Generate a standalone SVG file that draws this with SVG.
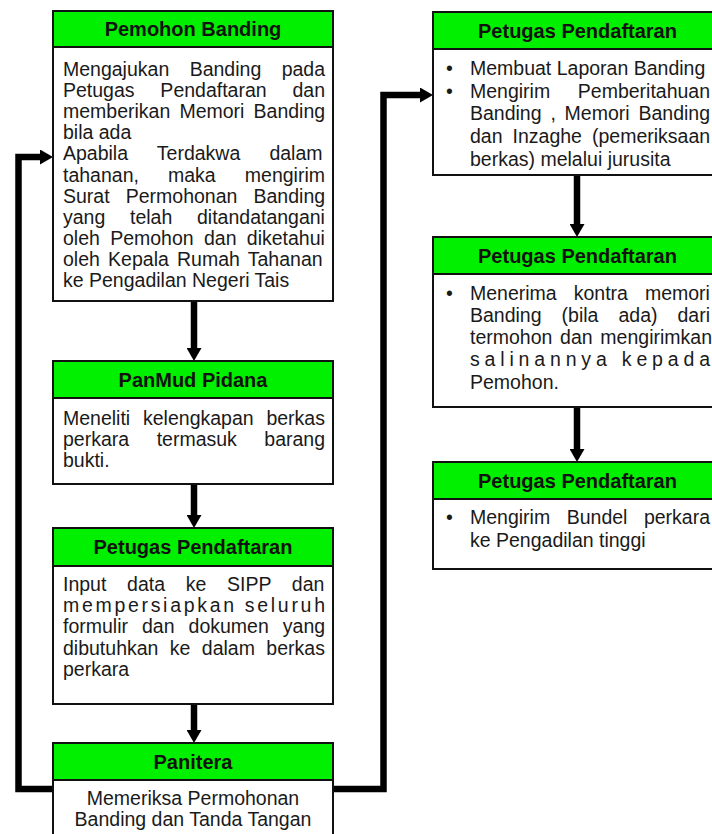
<svg xmlns="http://www.w3.org/2000/svg" width="712" height="834" viewBox="0 0 712 834">
<defs>
<style>
.box{fill:#fff;stroke:#111;stroke-width:2}
.hd{fill:#00F000;stroke:#111;stroke-width:2}
.ht{font-family:"Liberation Sans",Arial,sans-serif;font-size:20px;font-weight:bold;fill:#111;text-anchor:middle}
.bt{font-family:"Liberation Sans",Arial,sans-serif;font-size:19.5px;fill:#1a1a1a}
.ct{text-anchor:middle}
.conn{fill:none;stroke:#000;stroke-width:6.5;stroke-linejoin:miter}
</style>
<marker id="ah" viewBox="0 0 13 15" markerWidth="13" markerHeight="15" refX="5" refY="7.5" orient="auto" markerUnits="userSpaceOnUse">
<path d="M0,0 L13,7.5 L0,15 z" fill="#000"/>
</marker>
</defs>
<rect width="712" height="834" fill="#fff"/>

<g id="connectors">
<path class="conn" d="M194,302 V353" marker-end="url(#ah)"/>
<path class="conn" d="M194,485 V520" marker-end="url(#ah)"/>
<path class="conn" d="M194,705 V735" marker-end="url(#ah)"/>
<path class="conn" d="M577,176 V229" marker-end="url(#ah)"/>
<path class="conn" d="M577,408 V454" marker-end="url(#ah)"/>
<path class="conn" d="M54,789 H18.5 V157 H45" marker-end="url(#ah)"/>
<path class="conn" d="M332,789 H383.5 V95 H425" marker-end="url(#ah)"/>
</g>

<g id="pemohon-banding">
<rect class="box" x="53" y="11" width="280" height="290"/>
<rect class="hd" x="53" y="11" width="280" height="36"/>
<text class="ht" x="193" y="36">Pemohon Banding</text>
<text class="bt" x="63" y="76" word-spacing="15">Mengajukan Banding pada</text>
<text class="bt" x="63" y="97.1" word-spacing="20.4">Petugas Pendaftaran dan</text>
<text class="bt" x="63" y="118.2" word-spacing="3.7">memberikan Memori Banding</text>
<text class="bt" x="63" y="139.3">bila ada</text>
<text class="bt" x="63" y="160.4" word-spacing="23.7">Apabila Terdakwa dalam</text>
<text class="bt" x="63" y="181.5" word-spacing="23.7">tahanan, maka mengirim</text>
<text class="bt" x="63" y="202.6" word-spacing="10.7">Surat Permohonan Banding</text>
<text class="bt" x="63" y="223.7" word-spacing="19.3">yang telah ditandatangani</text>
<text class="bt" x="63" y="244.8" word-spacing="4.9">oleh Pemohon dan diketahui</text>
<text class="bt" x="63" y="265.9" word-spacing="2.8">oleh Kepala Rumah Tahanan</text>
<text class="bt" x="63" y="287">ke Pengadilan Negeri Tais</text>
</g>

<g id="panmud-pidana">
<rect class="box" x="53" y="361" width="280" height="123"/>
<rect class="hd" x="53" y="361" width="280" height="37"/>
<text class="ht" x="193" y="387">PanMud Pidana</text>
<text class="bt" x="63" y="425" word-spacing="7.4">Meneliti kelengkapan berkas</text>
<text class="bt" x="63" y="446" word-spacing="22.1">perkara termasuk barang</text>
<text class="bt" x="63" y="467">bukti.</text>
</g>

<g id="petugas-pendaftaran-1">
<rect class="box" x="53" y="528" width="280" height="176"/>
<rect class="hd" x="53" y="528" width="280" height="38"/>
<text class="ht" x="193" y="554">Petugas Pendaftaran</text>
<text class="bt" x="63" y="591" word-spacing="15.3">Input data ke SIPP dan</text>
<text class="bt" x="63" y="612.2" textLength="262" lengthAdjust="spacing">mempersiapkan  seluruh</text>
<text class="bt" x="63" y="633.4" word-spacing="8.6">formulir dan dokumen yang</text>
<text class="bt" x="63" y="654.6" word-spacing="6">dibutuhkan ke dalam berkas</text>
<text class="bt" x="63" y="675.8">perkara</text>
</g>

<g id="panitera">
<rect class="box" x="53" y="743" width="280" height="110"/>
<rect class="hd" x="53" y="743" width="280" height="37"/>
<text class="ht" x="193" y="769">Panitera</text>
<text class="bt ct" x="193" y="805">Memeriksa Permohonan</text>
<text class="bt ct" x="193" y="826">Banding dan Tanda Tangan</text>
</g>

<g id="petugas-pendaftaran-2">
<rect class="box" x="433" y="12" width="289" height="163"/>
<rect class="hd" x="433" y="12" width="289" height="37"/>
<text class="ht" x="577.5" y="38">Petugas Pendaftaran</text>
<text class="bt" x="446" y="75">•</text>
<text class="bt" x="470" y="75">Membuat Laporan Banding</text>
<text class="bt" x="446" y="97.7">•</text>
<text class="bt" x="470" y="97.7" word-spacing="22.2">Mengirim Pemberitahuan</text>
<text class="bt" x="470" y="120.4" word-spacing="3.4">Banding , Memori Banding</text>
<text class="bt" x="470" y="143.1" word-spacing="4.6">dan Inzaghe (pemeriksaan</text>
<text class="bt" x="470" y="165.8">berkas) melalui jurusita</text>
</g>

<g id="petugas-pendaftaran-3">
<rect class="box" x="433" y="237" width="289" height="170"/>
<rect class="hd" x="433" y="237" width="289" height="37"/>
<text class="ht" x="577.5" y="263">Petugas Pendaftaran</text>
<text class="bt" x="446" y="299.5">•</text>
<text class="bt" x="470" y="299.5" word-spacing="11.6">Menerima kontra memori</text>
<text class="bt" x="470" y="321.8" word-spacing="14.6">Banding (bila ada) dari</text>
<text class="bt" x="470" y="344.1" word-spacing="2.3">termohon dan mengirimkan</text>
<text class="bt" x="470" y="366.4" textLength="240" lengthAdjust="spacing">salinannya  kepada</text>
<text class="bt" x="470" y="388.7">Pemohon.</text>
</g>

<g id="petugas-pendaftaran-4">
<rect class="box" x="433" y="462" width="289" height="107"/>
<rect class="hd" x="433" y="462" width="289" height="37"/>
<text class="ht" x="577.5" y="488">Petugas Pendaftaran</text>
<text class="bt" x="446" y="523.5">•</text>
<text class="bt" x="470" y="523.5" word-spacing="11.1">Mengirim Bundel perkara</text>
<text class="bt" x="470" y="546.5">ke Pengadilan tinggi</text>
</g>
</svg>
